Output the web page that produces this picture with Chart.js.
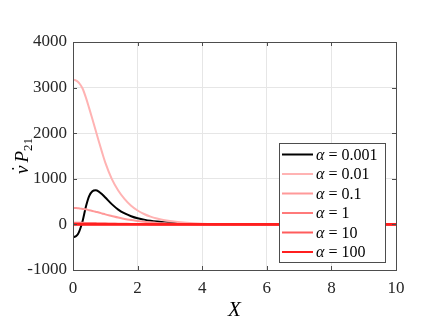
<!DOCTYPE html>
<html lang="en">
<head>
    <meta charset="UTF-8">
    <title>vP21 over X</title>
    <style>
        body {
            margin: 0;
            background: #fff;
        }
        #chart-container {
            width: 436px;
            height: 327px;
        }
    </style>
</head>
<body>
<div id="chart-container">
    <canvas id="pChart" width="436" height="327"></canvas>
</div>
<script src="https://cdn.jsdelivr.net/npm/chart.js"></script>
<script>
    const xs = [0, 0.05, 0.1, 0.15, 0.2, 0.25, 0.3, 0.4, 0.5, 0.6, 0.7, 0.8, 0.9, 1.0,
        1.2, 1.4, 1.6, 1.8, 2.0, 2.2, 2.4, 2.6, 2.8, 3.0, 3.5, 4, 5, 6, 7, 8, 9, 10];

    const alphaLabels = ['0.001', '0.01', '0.1', '1', '10', '100'];

    const alpha0001 = [-280, -272, -255, -215, -140, -40, 80, 390, 620, 725, 748, 720, 660, 590,
        445, 325, 240, 180, 135, 105, 80, 62, 48, 37, 17, 7, 1, 0, 0, 0, 0, 0];
    const alpha001 = [3170, 3168, 3155, 3130, 3090, 3040, 2975, 2780, 2550, 2310, 2065, 1820, 1580, 1355,
        1000, 745, 555, 410, 305, 228, 170, 128, 97, 74, 36, 16, 3, 0.5, 0, 0, 0, 0];
    const alpha01 = [360, 360, 358, 355, 350, 345, 340, 330, 312, 295, 277, 260, 240, 220,
        185, 150, 118, 95, 77, 60, 45, 33, 25, 18, 8, 3, 0.5, 0, 0, 0, 0, 0];
    const alpha1 = [36, 36, 36, 35, 35, 34, 34, 33, 31, 30, 28, 27, 25, 23,
        20, 16, 13, 10, 8, 6, 5, 4, 3, 2, 1, 0.4, 0, 0, 0, 0, 0, 0];
    const alpha10 = [4, 4, 4, 4, 4, 4, 4, 3, 3, 3, 3, 3, 3, 2,
        2, 2, 1, 1, 1, 1, 0.5, 0.4, 0.3, 0.2, 0.1, 0, 0, 0, 0, 0, 0, 0];
    const alpha100 = [0.4, 0.4, 0.4, 0.4, 0.4, 0.4, 0.4, 0.3, 0.3, 0.3, 0.3, 0.3, 0.3, 0.2,
        0.2, 0.2, 0.1, 0.1, 0.1, 0.1, 0, 0, 0, 0, 0, 0, 0, 0, 0, 0, 0, 0];

    const xTicks = [0, 2, 4, 6, 8, 10];
    const yTicks = [-1000, 0, 1000, 2000, 3000, 4000];

    const seriesList = [alpha0001, alpha001, alpha01, alpha1, alpha10, alpha100];
    const lineColors = ['#000000', '#ffb3b3', '#ff9999', '#ff7a7a', '#ff5c5c', '#ff1f1f'];
    const lineWidths = [2, 2, 2, 2, 2, 2.6];

    const serif = '"Liberation Serif", "Times New Roman", serif';
    const axisColor = '#4d4d4d';

    const datasets = seriesList.map(function(values, i) {
        return {
            label: 'α = ' + alphaLabels[i],
            data: values.map(function(v, j) { return {x: xs[j], y: v}; }),
            borderColor: lineColors[i],
            backgroundColor: lineColors[i],
            borderWidth: lineWidths[i],
            pointRadius: 0,
            cubicInterpolationMode: 'monotone',
            fill: false,
            order: seriesList.length - i
        };
    });

    // box, inward ticks, axis titles and legend like the original figure
    const figurePlugin = {
        id: 'figurePlugin',
        afterDraw(chart) {
            const ctx = chart.ctx;
            const a = chart.chartArea;
            const xs_ = chart.scales.x;
            const ys_ = chart.scales.y;
            ctx.save();

            ctx.strokeStyle = axisColor;
            ctx.lineWidth = 1;
            ctx.strokeRect(Math.round(a.left) + 0.5, Math.round(a.top) + 0.5,
                Math.round(a.right - a.left), Math.round(a.bottom - a.top));

            ctx.beginPath();
            xTicks.forEach(function(v) {
                const px = Math.round(xs_.getPixelForValue(v)) + 0.5;
                ctx.moveTo(px, a.bottom); ctx.lineTo(px, a.bottom - 4);
                ctx.moveTo(px, a.top); ctx.lineTo(px, a.top + 4);
            });
            yTicks.forEach(function(v) {
                const py = Math.round(ys_.getPixelForValue(v)) + 0.5;
                ctx.moveTo(a.left, py); ctx.lineTo(a.left + 4, py);
                ctx.moveTo(a.right, py); ctx.lineTo(a.right - 4, py);
            });
            ctx.stroke();

            // x title
            ctx.fillStyle = '#000';
            ctx.textAlign = 'center';
            ctx.textBaseline = 'middle';
            ctx.font = 'italic 21px ' + serif;
            ctx.fillText('X', (a.left + a.right) / 2, 310);

            // y title: v-dot P_21, rotated
            ctx.translate(21, (a.top + a.bottom) / 2);
            ctx.rotate(-Math.PI / 2);
            ctx.textBaseline = 'alphabetic';
            ctx.textAlign = 'left';
            ctx.font = 'italic 19px ' + serif;
            const wV = ctx.measureText('v').width;
            const wP = ctx.measureText('P').width;
            ctx.font = '13px ' + serif;
            const wSub = ctx.measureText('21').width;
            let tx = -(wV + 3 + wP + wSub) / 2;
            ctx.font = 'italic 19px ' + serif;
            ctx.fillText('v', tx, 7);
            ctx.fillText('˙', tx + 1, 4);
            tx += wV + 3;
            ctx.fillText('P', tx, 7);
            tx += wP;
            ctx.font = '13px ' + serif;
            ctx.fillText('21', tx, 11);
            ctx.setTransform(1, 0, 0, 1, 0, 0);

            // legend
            const lx = 279.5, ly = 143.5, lw = 106, lh = 119;
            ctx.fillStyle = '#fff';
            ctx.fillRect(lx, ly, lw, lh);
            ctx.strokeStyle = axisColor;
            ctx.lineWidth = 1;
            ctx.strokeRect(lx, ly, lw, lh);
            ctx.textBaseline = 'middle';
            alphaLabels.forEach(function(lab, i) {
                const cy = 154.5 + i * 19.5;
                ctx.strokeStyle = lineColors[i];
                ctx.lineWidth = 2;
                ctx.beginPath();
                ctx.moveTo(282, cy); ctx.lineTo(313, cy);
                ctx.stroke();
                ctx.fillStyle = '#000';
                ctx.font = 'italic 16px ' + serif;
                ctx.fillText('α', 316, cy + 1);
                const wa = ctx.measureText('α').width;
                ctx.font = '16px ' + serif;
                ctx.fillText(' = ' + lab, 316 + wa, cy + 1);
            });

            ctx.restore();
        }
    };

    const ctx = document.getElementById('pChart').getContext('2d');
    const pChart = new Chart(ctx, {
        type: 'line',
        data: { datasets: datasets },
        options: {
            responsive: false,
            animation: false,
            layout: { padding: { top: 42, right: 40, left: 0, bottom: 0 } },
            plugins: {
                legend: { display: false },
                tooltip: { enabled: false }
            },
            scales: {
                x: {
                    type: 'linear',
                    min: 0,
                    max: 10,
                    afterFit: function(scale) { scale.height = 57; },
                    afterBuildTicks: function(scale) {
                        scale.ticks = xTicks.map(function(v) { return {value: v}; });
                    },
                    grid: { color: '#e6e6e6', drawTicks: false },
                    border: { display: false },
                    ticks: {
                        padding: 8,
                        color: '#262626',
                        font: { family: serif, size: 17 }
                    }
                },
                y: {
                    min: -1000,
                    max: 4000,
                    afterFit: function(scale) { scale.width = 73; },
                    afterBuildTicks: function(scale) {
                        scale.ticks = yTicks.map(function(v) { return {value: v}; });
                    },
                    grid: { color: '#e6e6e6', drawTicks: false },
                    border: { display: false },
                    ticks: {
                        padding: 6,
                        color: '#262626',
                        font: { family: serif, size: 17 },
                        callback: function(v) { return String(v); }
                    }
                }
            }
        },
        plugins: [figurePlugin]
    });
</script>
</body>
</html>
